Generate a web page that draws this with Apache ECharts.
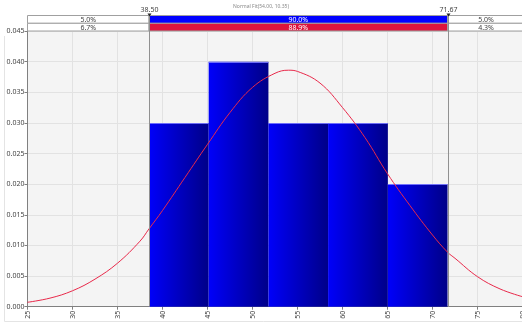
<!DOCTYPE html>
<html><head><meta charset="utf-8">
<script src="https://cdn.jsdelivr.net/npm/echarts@6/dist/echarts.min.js"></script>
<style>html,body{margin:0;padding:0;background:#fff}#c{width:522px;height:324px}</style>
</head><body><div id="c"></div>
<script>
const titleText = 'Normal Fit(54.00, 10.35)';
const binEdges = [38.50, 45.13, 51.77, 58.40, 65.04, 71.67];
const binDensity = [0.030, 0.040, 0.030, 0.030, 0.020];
const curveX = [25, 27.5, 30, 32.5, 35, 37.5, 38.5, 40, 42.5, 45, 47.5, 50, 52.5, 54, 55, 57.5, 60, 62.5, 65, 67.5, 70, 71.67, 72.5, 75, 77.5, 80];
const curveY = [0.00072, 0.0014, 0.0026, 0.0045, 0.0071, 0.0107, 0.0127, 0.0157, 0.0211, 0.0265, 0.0317, 0.0358, 0.0381, 0.0386, 0.0384, 0.0365, 0.0325, 0.0276, 0.0217, 0.0165, 0.0117, 0.0089, 0.0079, 0.0049, 0.0029, 0.00163];
const xMin = 25, xMax = 80, xStep = 5;
const yMin = 0, yMax = 0.045, yStep = 0.005;
const cutLeft = 38.50, cutRight = 71.67;
const cutLabels = ['38.50', '71.67'];
const row1 = ['5.0%', '90.0%', '5.0%'];
const row2 = ['6.7%', '88.9%', '4.3%'];

const FONT = 'Noto Sans';
const chart = echarts.init(document.getElementById('c'), null, {renderer: 'canvas'});

const bars = binDensity.map((d, i) => [binEdges[i], binEdges[i + 1], d]);

chart.setOption({
  animation: false,
  backgroundColor: '#fff',
  textStyle: {fontFamily: FONT},
  title: {text: titleText, left: 'center', top: -1,
    textStyle: {fontSize: 5, color: '#888', fontWeight: 'normal', fontFamily: FONT}},
  grid: {left: 27.5, right: -0.5, top: 31, bottom: 17.3, show: true,
    outerBoundsMode: 'none', containLabel: false,
    backgroundColor: '#f4f4f4', borderWidth: 0},
  xAxis: {type: 'value', min: xMin, max: xMax, interval: xStep,
    axisLine: {show: true, onZero: false, lineStyle: {color: '#808080'}},
    axisTick: {show: true, length: 3, lineStyle: {color: '#808080'}},
    axisLabel: {rotate: 90, fontSize: 7, color: '#444', margin: 4, fontFamily: FONT},
    splitLine: {show: true, lineStyle: {color: '#e2e2e2'}}},
  yAxis: {type: 'value', min: yMin, max: yMax, interval: yStep,
    axisLine: {show: true, lineStyle: {color: '#808080'}},
    axisTick: {show: true, length: 3, lineStyle: {color: '#808080'}},
    axisLabel: {fontSize: 7, color: '#444', margin: 3, fontFamily: FONT,
      formatter: v => v.toFixed(3)},
    splitLine: {show: true, lineStyle: {color: '#e2e2e2'}}},
  series: [
    {type: 'custom', data: bars, z: 2,
      renderItem: (params, api) => {
        const p0 = api.coord([api.value(0), api.value(2)]);
        const p1 = api.coord([api.value(1), 0]);
        const w = p1[0] - p0[0];
        return {type: 'group', children: [
          {type: 'rect',
            shape: {x: p0[0], y: p0[1], width: w, height: p1[1] - p0[1]},
            style: {fill: new echarts.graphic.LinearGradient(0, 0, 1, 0, [
              {offset: 0, color: '#0000fa'}, {offset: 1, color: '#000088'}])}},
          {type: 'line', shape: {x1: p0[0], y1: Math.round(p0[1]) + 0.5, x2: p1[0], y2: Math.round(p0[1]) + 0.5},
            style: {stroke: 'rgba(120,120,255,0.9)', lineWidth: 1}}
        ]};
      }},
    {type: 'line', data: curveX.map((x, i) => [x, curveY[i]]), smooth: 0.4,
      showSymbol: false, z: 5, lineStyle: {color: '#e8294a', width: 1}}
  ]
});

const px = v => chart.convertToPixel({xAxisIndex: 0}, v);
const xl = px(xMin), xa = px(cutLeft), xb = px(cutRight), xr = px(xMax);
const yBottom = chart.convertToPixel({yAxisIndex: 0}, 0);
const r1 = 15.5, r2 = 23.3, r3 = 31;
const g = [];
function box(x0, x1, y0, y1, fill, text, color) {
  g.push({type: 'rect', shape: {x: x0, y: y0, width: x1 - x0, height: y1 - y0},
    style: {fill: fill, stroke: '#a0a0a0', lineWidth: 1}, z: 10});
  g.push({type: 'text', x: (x0 + x1) / 2, y: (y0 + y1) / 2 + 0.5,
    style: {text: text, fill: color, fontSize: 7, fontFamily: FONT, align: 'center', verticalAlign: 'middle'}, z: 11});
}
box(xl, xa, r1, r2, '#fff', row1[0], '#444');
box(xa, xb, r1, r2, '#0000ff', row1[1], '#fff');
box(xb, xr + 2, r1, r2, '#fff', row1[2], '#444');
box(xl, xa, r2, r3, '#fff', row2[0], '#444');
box(xa, xb, r2, r3, '#dc143c', row2[1], '#fff');
box(xb, xr + 2, r2, r3, '#fff', row2[2], '#444');
[xa, xb].forEach((x, i) => {
  const xx = Math.round(x) + 0.5;
  g.push({type: 'line', shape: {x1: xx, y1: 14, x2: xx, y2: yBottom},
    style: {stroke: '#909090', lineWidth: 1}, z: 12});
  g.push({type: 'polygon', shape: {points: [[xx - 2, 13.5], [xx + 2, 13.5], [xx, 16.5]]},
    style: {fill: '#222'}, z: 13});
  g.push({type: 'text', x: xx, y: 10, style: {text: cutLabels[i], fill: '#444', fontSize: 7,
    fontFamily: FONT, align: 'center', verticalAlign: 'middle'}, z: 13});
});
g.push({type: 'polyline', shape: {points: [[4.5, 36], [4.5, 321.5], [522, 321.5]]},
  style: {stroke: '#e4e4e4', lineWidth: 1, fill: null}, z: 0});
chart.setOption({graphic: g});
</script></body></html>
